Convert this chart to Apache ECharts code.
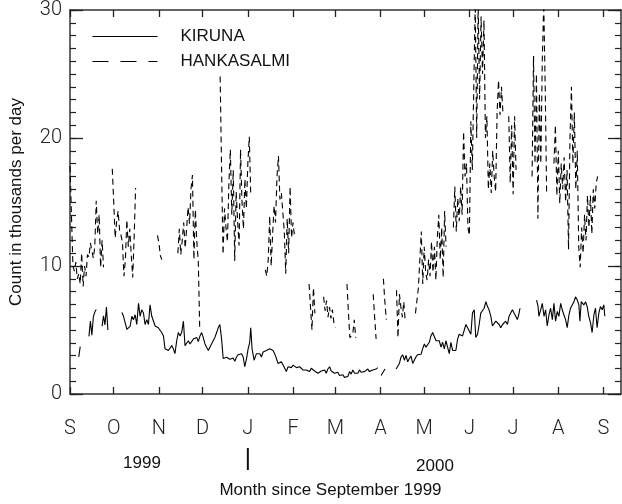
<!DOCTYPE html>
<html>
<head>
<meta charset="utf-8">
<script src="https://cdn.jsdelivr.net/npm/echarts@6/dist/echarts.min.js"></script>
<style>html,body{margin:0;padding:0;background:#fff;}#c{width:622px;height:504px;}</style>
</head>
<body>
<div id="c"></div>
<script>
// Days since 1 September 1999 at which each month starts
const monthDays = [0, 30, 61, 91, 122, 153, 182, 213, 243, 274, 304, 335, 366];
const monthLabels = ['S', 'O', 'N', 'D', 'J', 'F', 'M', 'A', 'M', 'J', 'J', 'A', 'S'];
const yearLabels = ['1999', '2000'];
const yTicks = [0, 10, 20, 30];

// KIRUNA: day since 1 Sep 1999, count (thousands/day); null = data gap
const kirunaDay = [
  6, 7, 10,
  13, 14, 15, 16, 17, 18, 20,
  22, 23, 24, 25, 26, 30,
  35.6, 36.7, 37.9, 39.0, 40.1, 41.3, 42.4, 43.6, 44.7, 45.8, 47.0, 48.1, 49.2, 50.4, 51.5, 52.7, 53.8, 54.9, 56.1, 57.2,
  58.4, 59.5, 60.6, 61.8, 62.9, 64.1, 65.2, 66.3, 67.5, 68.6, 69.8, 70.9, 72.0, 73.2, 74.3, 75.5, 76.6, 77.8, 78.9, 80.0,
  81.2, 82.3, 83.5, 84.6, 85.7, 86.9, 88.0, 89.2, 90.3, 91.4, 92.6, 93.7, 94.9, 96.0, 97.1, 98.3, 99.4, 100.6, 101.7, 102.8,
  104.0, 105.1, 106.3, 107.4, 108.5, 109.7, 110.8, 111.9, 113.1, 114.2, 115.4, 116.5, 117.7, 118.8, 119.9, 121.1, 122.2, 123.3, 124.0, 124.9,
  126.3, 127.9, 129.1, 130.2, 131.3, 132.5, 133.6, 134.7, 135.9, 137.0, 138.2, 139.3, 140.4, 141.6, 142.7, 143.9, 145.0, 146.2, 147.3, 148.4,
  149.6, 150.7, 151.9, 153.0, 154.1, 155.3, 156.4, 157.5, 158.7, 159.8, 161.0, 162.1, 163.3, 164.4, 165.5, 166.7, 167.8, 169.0, 170.1, 171.2,
  172.4, 173.5, 174.7, 175.8, 176.9, 178.1, 179.2, 180.4, 181.5, 182.6, 183.8, 184.9, 186.1, 187.2, 188.3, 189.5, 190.6, 191.8, 192.9, 194.0,
  195.2, 196.3, 197.5, 198.6, 199.7, 200.9, 202.0, 203.2, 204.3, 205.4, 206.6, 207.7, 208.8, 210.0, 211.1, 212,
  213.4, 214.5, 216.1, 220,
  223.7, 224.8, 226.0, 227.1, 228.2, 229.4, 230.5, 231.7, 232.8, 233.9, 235.1, 236.2, 237.3, 238.5, 239.6, 240.8, 241.9, 243.1, 244.2, 245.4,
  246.5, 247.6, 248.8, 249.9, 251.1, 252.2, 253.3, 254.5, 255.6, 256.8, 257.9, 259.0, 260.2, 261.3, 262.5, 263.6, 264.7, 265.9, 267.0, 268.2,
  269.3, 270.4, 271.6, 272.7, 273.9, 275.0, 276.1, 277.3, 278.4, 279.6, 280.7, 281.8, 283.0, 284.1, 285.3, 286.4, 287.5, 288.7, 289.8, 291.0,
  292.1, 293.2, 294.4, 295.5, 296.7, 297.8, 298.9, 300.1, 301.2, 302.4, 303.5, 304.6, 305.8, 306.9, 308.1, 308.7, 314,
  320.1, 321.1, 321.7, 322.9, 324.0, 325.2, 326.3, 327.4, 328.6, 329.7, 330.9, 332.0, 333.1, 334.3, 335.4, 336.6, 337.7, 338.8, 340.0, 341.1,
  342.3, 343.4, 344.5, 345.7, 346.8, 348.0, 349.1, 349.8, 350.7, 351.8, 352.5, 353.7, 354.8, 355.9, 357.1, 358.2, 359.4, 360.5, 361.6, 362.8,
  363.9, 365.1, 366.2, 366.9
];
const kirunaCount = [
  2.9, 3.7, null,
  4.5, 5.7, 4.6, 6.0, 6.4, 6.6, null,
  5.3, 6.1, 5.4, 6.8, 5.0, null,
  6.37, 6.07, 5.56, 5.05, 4.92, 5.31, 6.07, 5.81, 6.19, 5.43, 7.08, 6.07, 6.58, 6.32, 5.43, 5.81, 5.43, 6.96, 6.07, 6.19,
  5.31, 5.43, 5.18, 5.05, 4.80, 4.54, 3.53, 3.40, 3.40, 3.53, 3.78, 3.53, 3.15, 4.16, 4.80, 4.54, 4.80, 5.69, 3.78, 3.91,
  4.16, 3.91, 4.04, 4.29, 4.16, 4.42, 4.09, 4.54, 4.80, 4.42, 3.91, 3.66, 3.40, 3.66, 3.91, 4.04, 4.42, 4.80, 5.18, 5.43,
  4.29, 2.77, 2.82, 2.87, 2.89, 2.72, 2.64, 2.82, 2.56, 2.89, 3.07, 3.15, 3.15, 2.89, 2.13, 2.77, 3.53, 4.04, 5.18, 3.53,
  2.64, 3.15, 3.28, 3.15, 2.89, 3.28, 3.28, 3.40, 3.53, 3.53, 3.40, 3.40, 3.15, 2.77, 2.39, 2.26, 2.51, 2.26, 2.01, 1.75,
  2.13, 2.13, 2.06, 2.26, 2.13, 2.06, 1.95, 2.13, 2.01, 1.88, 1.95, 1.88, 1.80, 1.75, 2.01, 1.88, 1.80, 1.75, 1.62, 1.75,
  1.80, 1.70, 1.88, 1.62, 1.95, 2.13, 1.80, 1.70, 1.62, 1.55, 1.70, 1.45, 1.37, 1.50, 1.30, 1.24, 1.37, 1.75, 1.55, 1.88,
  1.62, 1.75, 1.62, 1.88, 1.70, 1.55, 1.75, 1.80, 1.95, 1.75, 1.62, 1.88, 1.80, 1.95, 2.06, null,
  1.45, 1.55, 1.95, null,
  1.95, 2.01, 2.39, 2.89, 3.07, 2.64, 3.02, 2.51, 2.77, 2.97, 2.39, 2.51, 2.89, 3.07, 2.97, 3.10, 3.53, 3.91, 3.66, 3.53,
  4.04, 4.54, 4.80, 4.85, 4.16, 4.09, 4.16, 3.66, 4.04, 3.53, 4.16, 3.66, 3.15, 4.04, 3.40, 3.28, 3.40, 4.29, 4.67, 4.67,
  4.54, 4.67, 5.43, 5.56, 4.92, 4.67, 6.32, 6.58, 4.42, 4.67, 5.43, 6.32, 6.45, 6.70, 7.21, 6.83, 6.58, 6.07, 5.31, 5.31,
  5.69, 5.81, 5.43, 5.18, 5.43, 5.31, 5.69, 5.43, 6.07, 6.19, 6.58, 6.32, 6.07, 5.81, 6.32, 6.70, null,
  7.34, 6.83, 6.07, 6.58, 7.08, 6.07, 6.58, 5.31, 6.19, 6.70, 5.81, 7.08, 5.69, 6.45, 6.07, 7.08, 6.58, 6.19, 5.81, 5.18,
  6.19, 6.70, 6.96, 7.21, 7.59, 7.34, 6.96, 5.69, 7.21, 7.08, 6.96, 7.21, 6.83, 6.07, 5.56, 4.80, 6.19, 6.70, 5.18, 6.32,
  6.83, 6.58, 6.96, 6.07
];

// HANKASALMI: day since 1 Sep 1999, count (thousands/day); null = data gap
const hankDay = [
  0, 1, 2, 3, 4, 5, 6, 7, 8, 9, 10, 11, 12, 13, 14, 15, 16, 17, 18, 19, 20, 21, 22, 23, 26,
  29, 30, 31, 32, 33, 34, 35, 36, 37, 38, 39, 40, 41, 42, 43, 44, 45, 50,
  60, 61, 62, 63, 68,
  74, 75, 76, 77, 78, 79, 80, 81, 82, 83, 84, 85, 86, 87, 88, 89, 95,
  103, 104, 105, 106, 107, 108, 109, 110, 111, 112, 113, 114, 115, 116, 117, 118, 119, 120, 121, 122, 123, 124, 129,
  134, 135, 136, 137, 138, 139, 140, 141, 142, 143, 144, 145, 146, 147, 148, 149, 150, 151, 152, 153, 154, 159,
  164, 165, 166, 167, 168, 171,
  174, 175, 176, 177, 178, 179, 180, 181, 182, 186,
  190, 191, 192, 193, 194, 195, 196, 202,
  208, 209, 210, 212,
  215, 216, 217, 220,
  224, 225, 226, 227, 228, 229, 230, 233,
  237, 238, 239, 240, 241, 242, 243, 244, 245, 246, 247, 248, 249, 250, 251, 252, 253, 254, 255, 256, 257, 258, 260,
  263, 264, 265, 266, 267, 268, 269, 270, 271, 272, 273, 274, 275, 276, 277, 278, 279, 280, 281, 282, 283, 284,
  285, 286, 287, 288, 289, 290, 291, 292, 293, 294, 295, 296, 297, 299,
  301, 302, 303, 304, 305, 306, 312,
  317, 318, 319, 320, 321, 322, 323, 324, 325, 326, 327, 330,
  332, 333, 334, 335, 336, 337, 338, 339, 340, 341, 342, 343, 344, 345, 346, 347, 348, 349, 350, 351, 352, 353,
  354, 355, 356, 357, 358, 359, 360, 361, 362
];
const hankCount = [
  17.8, 14.0, 10.0, 9.6, 10.3, 9.0, 9.4, 8.6, 11.0, 8.4, 10.0, 9.2, 10.9, 10.7, 11.8, 11.2, 10.6, 11.5, 15.1, 12.5, 14.0, 9.9, 12.0, 9.9, null,
  17.6, 15.0, 12.2, 13.5, 14.3, 12.8, 12.4, 11.8, 9.2, 10.5, 13.6, 11.5, 12.9, 10.9, 9.1, 12.2, 16.1, null,
  12.4, 11.8, 10.8, 10.5, null,
  11.0, 12.9, 10.9, 12.0, 13.4, 11.4, 12.9, 14.6, 13.3, 16.0, 17.1, 10.5, 14.4, 11.9, 10.4, 5.0, null,
  24.8, 17.5, 10.9, 14.5, 13.0, 11.9, 16.5, 19.1, 14.0, 17.5, 10.4, 15.8, 13.5, 11.6, 19.1, 15.0, 12.9, 16.8, 14.5, 18.0, 20.1, 15.5, null,
  9.7, 9.2, 10.5, 13.9, 10.0, 12.5, 14.7, 13.4, 17.0, 18.6, 15.2, 15.7, 14.2, 12.7, 9.4, 13.7, 11.0, 16.2, 12.2, 13.4, 12.3, null,
  8.6, 6.8, 5.0, 8.3, 6.3, null,
  7.6, 6.5, 7.3, 6.0, 6.8, 5.9, 6.6, 5.6, 5.2, null,
  8.6, 6.4, 4.4, 4.5, 4.7, 5.8, 4.4, null,
  7.8, 6.0, 4.3, null,
  9.0, 7.2, 5.8, null,
  8.1, 4.4, 7.8, 6.8, 6.0, 7.2, 5.6, null,
  6.3, 7.3, 8.3, 8.4, 12.7, 8.6, 11.5, 9.5, 8.9, 10.5, 9.2, 11.9, 9.5, 11.5, 8.9, 12.2, 14.0, 10.5, 13.0, 9.1, 14.3, 11.5, null,
  13.0, 16.2, 12.7, 15.3, 13.5, 16.2, 14.0, 20.5, 17.0, 18.0, 13.0, 12.4, 21.3, 17.5, 24.0, 30.5, 20.0, 30.5, 23.0, 29.5, 25.0, 29.2,
  20.0, 21.7, 16.0, 18.0, 15.7, 19.0, 17.0, 15.8, 22.0, 24.5, 21.8, 24.0, 22.0, null,
  21.7, 16.5, 21.0, 15.6, 21.7, 17.5, null,
  17.0, 26.4, 18.0, 25.0, 13.7, 23.5, 18.0, 26.0, 30.5, 24.0, 15.5, null,
  18.0, 21.0, 15.5, 19.0, 14.9, 18.0, 16.0, 18.5, 15.0, 17.5, 11.3, 20.0, 24.0, 18.0, 22.0, 16.0, 19.0, 11.5, 9.9, 13.0, 11.0, 14.0,
  12.0, 15.5, 13.0, 15.5, 12.5, 16.0, 14.5, 16.5, 17.0
];

const pairs = (days, vals) => days.map((d, i) => [d, vals[i] === null ? '-' : vals[i]]);

const tickFont = { fontFamily: 'Roboto', fontWeight: 300, fontSize: 20, color: '#222' };
const textFont = 'Liberation Sans';
const frame = { show: true, onZero: false, lineStyle: { color: '#333', width: 1.5 } };
const tickStyle = { color: '#222', width: 1.3 };

// axis with a tick at every unit (the minor ticks), no line and no labels
const unitTickAxis = (position) => ({
  type: 'value', min: 0, max: 30, interval: 1, position: position,
  axisLine: { show: false, onZero: false }, splitLine: { show: false },
  axisTick: { show: true, inside: true, length: 6, lineStyle: { color: '#222', width: 1.2 } },
  axisLabel: { show: false }
});

const chart = echarts.init(document.getElementById('c'), null, { renderer: 'canvas' });

const option = {
  animation: false,
  backgroundColor: '#fff',
  grid: { left: 68, top: 10, width: 553, height: 393, containLabel: false },
  legend: {
    orient: 'vertical', left: 92, top: 28, padding: 0, itemWidth: 65, itemHeight: 14, itemGap: 8,
    textStyle: { fontFamily: textFont, fontSize: 17, color: '#111', padding: [0, 0, 0, 18] },
    data: [
      { name: 'KIRUNA', itemStyle: { opacity: 0 }, lineStyle: { type: 'solid', width: 1, color: '#000' } },
      { name: 'HANKASALMI', itemStyle: { opacity: 0 }, lineStyle: { type: [16, 12], width: 1, color: '#000' } }
    ]
  },
  xAxis: [
    {
      type: 'value', min: 0, max: 378, position: 'bottom',
      axisLine: frame,
      splitLine: { show: false },
      axisTick: { show: true, inside: true, length: 7, customValues: monthDays, lineStyle: tickStyle },
      axisLabel: {
        customValues: monthDays, margin: 25, ...tickFont,
        formatter: v => monthLabels[monthDays.indexOf(v)] || ''
      },
      name: 'Month since September 1999', nameLocation: 'middle', nameGap: 88,
      nameTextStyle: { fontFamily: textFont, fontSize: 17, color: '#111', padding: [0, 30, 0, 0] }
    },
    {
      type: 'value', min: 0, max: 378, position: 'top',
      axisLine: frame, splitLine: { show: false },
      axisTick: { show: true, inside: true, length: 7, customValues: monthDays, lineStyle: tickStyle },
      axisLabel: { show: false }
    }
  ],
  yAxis: [
    {
      type: 'value', min: 0, max: 30, interval: 10, position: 'left',
      axisLine: frame, splitLine: { show: false },
      axisTick: { show: true, inside: true, length: 13, lineStyle: tickStyle },
      axisLabel: { margin: 8, ...tickFont, formatter: v => yTicks.includes(v) ? String(v) : '' },
      name: 'Count in thousands per day', nameLocation: 'middle', nameGap: 45, nameRotate: 90,
      nameTextStyle: { fontFamily: textFont, fontSize: 17, color: '#111' }
    },
    {
      type: 'value', min: 0, max: 30, interval: 10, position: 'right',
      axisLine: frame, splitLine: { show: false },
      axisTick: { show: true, inside: true, length: 13, lineStyle: tickStyle },
      axisLabel: { show: false }
    },
    unitTickAxis('left'),
    unitTickAxis('right')
  ],
  series: [
    {
      name: 'KIRUNA', type: 'line', xAxisIndex: 0, yAxisIndex: 0,
      data: pairs(kirunaDay, kirunaCount), showSymbol: false, symbol: 'none',
      connectNulls: false, clip: true, itemStyle: { color: '#000' },
      lineStyle: { color: '#000', width: 1.1, type: 'solid' }
    },
    {
      name: 'HANKASALMI', type: 'line', xAxisIndex: 0, yAxisIndex: 0,
      data: pairs(hankDay, hankCount), showSymbol: false, symbol: 'none',
      connectNulls: false, clip: true, itemStyle: { color: '#000' },
      lineStyle: { color: '#000', width: 1.1, type: [6, 4] }
    }
  ]
};
chart.setOption(option);

// Year annotations under the month axis, and the year-boundary mark at 1 January
const janX = chart.convertToPixel({ xAxisIndex: 0 }, monthDays[4]);
chart.setOption({
  graphic: [
    { type: 'line', shape: { x1: janX, y1: 448, x2: janX, y2: 470 }, style: { stroke: '#111', lineWidth: 2 } },
    { type: 'text', x: 142, y: 463, style: { text: yearLabels[0], fontFamily: textFont, fontSize: 17, fill: '#111', align: 'center', verticalAlign: 'middle' } },
    { type: 'text', x: 435, y: 466, style: { text: yearLabels[1], fontFamily: textFont, fontSize: 17, fill: '#111', align: 'center', verticalAlign: 'middle' } }
  ]
});
</script>
</body>
</html>
